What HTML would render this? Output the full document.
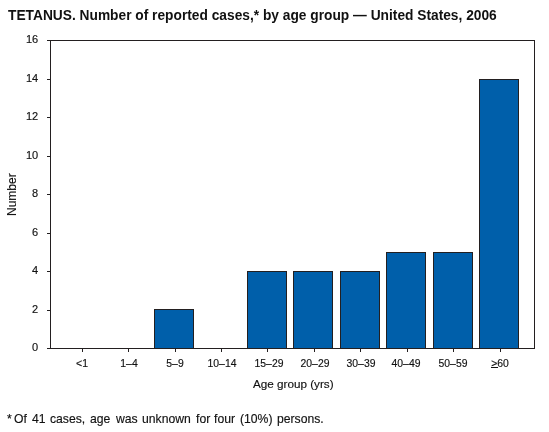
<!DOCTYPE html><html><head><meta charset="utf-8"><style>
html,body{margin:0;padding:0;background:#fff;}
body{width:549px;height:432px;position:relative;overflow:hidden;font-family:"Liberation Sans",sans-serif;color:#111;-webkit-text-stroke:0.15px #111;}
.t{position:absolute;white-space:nowrap;line-height:1;will-change:transform;}
.fn{position:absolute;will-change:transform;white-space:nowrap;line-height:1;font-size:12.2px;top:413px;}
svg{position:absolute;left:0;top:0;}
</style></head><body>
<svg width="549" height="432" viewBox="0 0 549 432" shape-rendering="crispEdges"><rect x="154.5" y="309.5" width="39" height="39" fill="#005FAA" stroke="#231F20" stroke-width="1"/><rect x="247.5" y="271.5" width="39" height="77" fill="#005FAA" stroke="#231F20" stroke-width="1"/><rect x="293.5" y="271.5" width="39" height="77" fill="#005FAA" stroke="#231F20" stroke-width="1"/><rect x="340.5" y="271.5" width="39" height="77" fill="#005FAA" stroke="#231F20" stroke-width="1"/><rect x="386.5" y="252.5" width="39" height="96" fill="#005FAA" stroke="#231F20" stroke-width="1"/><rect x="433.5" y="252.5" width="39" height="96" fill="#005FAA" stroke="#231F20" stroke-width="1"/><rect x="479.5" y="79.5" width="39" height="269" fill="#005FAA" stroke="#231F20" stroke-width="1"/><rect x="50.5" y="40.5" width="484" height="308" fill="none" stroke="#231F20" stroke-width="1"/><line x1="47" y1="40.5" x2="50" y2="40.5" stroke="#231F20" stroke-width="1"/><line x1="47" y1="79.5" x2="50" y2="79.5" stroke="#231F20" stroke-width="1"/><line x1="47" y1="117.5" x2="50" y2="117.5" stroke="#231F20" stroke-width="1"/><line x1="47" y1="156.5" x2="50" y2="156.5" stroke="#231F20" stroke-width="1"/><line x1="47" y1="194.5" x2="50" y2="194.5" stroke="#231F20" stroke-width="1"/><line x1="47" y1="233.5" x2="50" y2="233.5" stroke="#231F20" stroke-width="1"/><line x1="47" y1="271.5" x2="50" y2="271.5" stroke="#231F20" stroke-width="1"/><line x1="47" y1="310.5" x2="50" y2="310.5" stroke="#231F20" stroke-width="1"/><line x1="47" y1="348.5" x2="50" y2="348.5" stroke="#231F20" stroke-width="1"/><line x1="82.5" y1="349" x2="82.5" y2="352" stroke="#231F20" stroke-width="1"/><line x1="128.5" y1="349" x2="128.5" y2="352" stroke="#231F20" stroke-width="1"/><line x1="175.5" y1="349" x2="175.5" y2="352" stroke="#231F20" stroke-width="1"/><line x1="221.5" y1="349" x2="221.5" y2="352" stroke="#231F20" stroke-width="1"/><line x1="267.5" y1="349" x2="267.5" y2="352" stroke="#231F20" stroke-width="1"/><line x1="314.5" y1="349" x2="314.5" y2="352" stroke="#231F20" stroke-width="1"/><line x1="360.5" y1="349" x2="360.5" y2="352" stroke="#231F20" stroke-width="1"/><line x1="407.5" y1="349" x2="407.5" y2="352" stroke="#231F20" stroke-width="1"/><line x1="453.5" y1="349" x2="453.5" y2="352" stroke="#231F20" stroke-width="1"/><line x1="500.5" y1="349" x2="500.5" y2="352" stroke="#231F20" stroke-width="1"/></svg>
<div class="t" id="title" style="left:8px;top:9px;font-size:13.75px;font-weight:bold;-webkit-text-stroke:0;">TETANUS. Number of reported cases,* by age group &#8212; United States, 2006</div>
<div class="t" style="right:511px;top:34px;font-size:11px;text-align:right;">16</div>
<div class="t" style="right:511px;top:73px;font-size:11px;text-align:right;">14</div>
<div class="t" style="right:511px;top:111px;font-size:11px;text-align:right;">12</div>
<div class="t" style="right:511px;top:150px;font-size:11px;text-align:right;">10</div>
<div class="t" style="right:511px;top:188px;font-size:11px;text-align:right;">8</div>
<div class="t" style="right:511px;top:227px;font-size:11px;text-align:right;">6</div>
<div class="t" style="right:511px;top:265px;font-size:11px;text-align:right;">4</div>
<div class="t" style="right:511px;top:304px;font-size:11px;text-align:right;">2</div>
<div class="t" style="right:511px;top:342px;font-size:11px;text-align:right;">0</div>
<div class="t" style="left:41.60px;width:80px;top:358.6px;font-size:10.4px;text-align:center;">&lt;1</div>
<div class="t" style="left:88.80px;width:80px;top:358.6px;font-size:10.4px;text-align:center;">1&#8211;4</div>
<div class="t" style="left:135.00px;width:80px;top:358.6px;font-size:10.4px;text-align:center;">5&#8211;9</div>
<div class="t" style="left:182.00px;width:80px;top:358.6px;font-size:10.4px;text-align:center;">10&#8211;14</div>
<div class="t" style="left:229.00px;width:80px;top:358.6px;font-size:10.4px;text-align:center;">15&#8211;29</div>
<div class="t" style="left:275.10px;width:80px;top:358.6px;font-size:10.4px;text-align:center;">20&#8211;29</div>
<div class="t" style="left:321.20px;width:80px;top:358.6px;font-size:10.4px;text-align:center;">30&#8211;39</div>
<div class="t" style="left:366.30px;width:80px;top:358.6px;font-size:10.4px;text-align:center;">40&#8211;49</div>
<div class="t" style="left:412.50px;width:80px;top:358.6px;font-size:10.4px;text-align:center;">50&#8211;59</div>
<div class="t" style="left:459.90px;width:80px;top:358.6px;font-size:10.4px;text-align:center;">&gt;60</div>
<div style="position:absolute;left:491px;top:367px;width:7px;height:1px;background:#111;"></div>
<div class="t" style="left:253px;top:378px;font-size:11.7px;">Age group (yrs)</div>
<div class="t" style="left:6px;top:216px;font-size:12px;transform-origin:0 0;transform:rotate(-90deg);">Number</div>
<div class="fn" style="left:7.0px">*</div>
<div class="fn" style="left:13.7px">Of</div>
<div class="fn" style="left:32.0px">41</div>
<div class="fn" style="left:49.7px">cases,</div>
<div class="fn" style="left:90.2px">age</div>
<div class="fn" style="left:116.0px">was</div>
<div class="fn" style="left:141.7px">unknown</div>
<div class="fn" style="left:196.2px">for</div>
<div class="fn" style="left:213.9px">four</div>
<div class="fn" style="left:240.0px">(10%)</div>
<div class="fn" style="left:277.2px">persons.</div>
</body></html>
